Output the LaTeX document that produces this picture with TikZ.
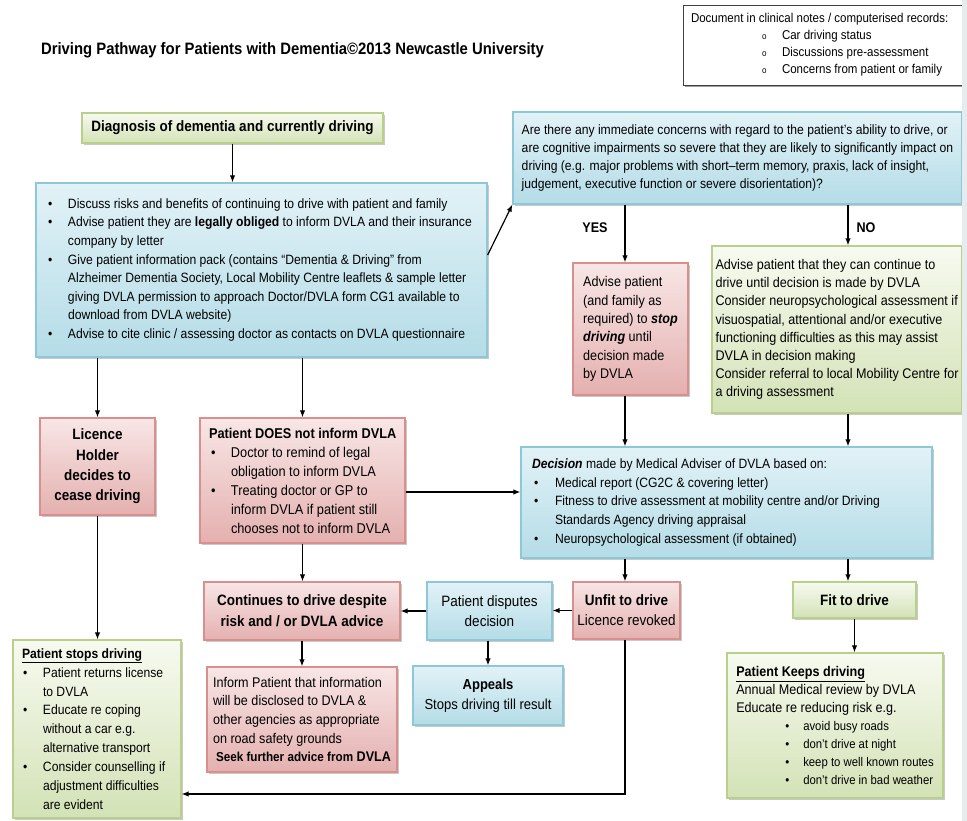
\documentclass[tikz,border=0pt]{standalone}
\usepackage{fontspec}
\setmainfont{Liberation Sans}[FakeStretch=0.9]
\usetikzlibrary{arrows.meta,shadows}
\definecolor{bluetop}{HTML}{E2F2F7}
\definecolor{bluebot}{HTML}{B4DCE7}
\definecolor{blueline}{HTML}{8CC8D8}
\definecolor{redtop}{HTML}{F8E6E6}
\definecolor{redbot}{HTML}{E4B0AF}
\definecolor{redline}{HTML}{D98F8D}
\definecolor{greentop}{HTML}{F7FAF0}
\definecolor{greenbot}{HTML}{D3E2B6}
\definecolor{greenline}{HTML}{B9D08A}
\definecolor{stripe}{HTML}{E6EBED}
\newcommand{\fs}[2]{\fontsize{#1}{#2}\selectfont}
\newcommand{\fw}[2]{\makebox[#1][l]{#2}}
\newcommand{\mybul}{\makebox[20pt][l]{\textbullet}}
\newcommand{\myind}{\hspace*{20pt}}
\newcommand{\mybulx}[2]{\hspace*{#1}\makebox[#2][l]{\textbullet}}
\newcommand{\myindx}[1]{\hspace*{#1}}
\newcommand{\myo}{\hspace*{71pt}\makebox[20pt][l]{\fs{9}{9}o}}
\begin{document}
\begin{tikzpicture}[x=1pt,y=-1pt,
  box/.style={rectangle, line width=1.3pt, inner sep=0pt, align=left,
    drop shadow={shadow xshift=2pt, shadow yshift=-2pt, fill=black!35, opacity=0.6}},
  bbox/.style={box, draw=blueline, top color=bluetop, bottom color=bluebot},
  rbox/.style={box, draw=redline, top color=redtop, bottom color=redbot},
  gbox/.style={box, draw=greenline, top color=greentop, bottom color=greenbot},
  docbox/.style={rectangle, draw=black!75, line width=0.9pt, fill=white, inner sep=0pt, align=left,
    drop shadow={shadow xshift=2pt, shadow yshift=-2pt, fill=black!55, opacity=0.7}},
  arr/.style={-{Latex[length=7pt,width=5.5pt]}, line width=1.2pt},
  lin/.style={line width=1.2pt},
  lbl/.style={inner sep=0pt, font=\bfseries\fs{14}{16}}]
\useasboundingbox (0,0) rectangle (967,821);
\fill[white] (0,0) rectangle (967,821);

\coordinate (yesx) at (625,0);
\coordinate (nox) at (848,0);
\coordinate (r492) at (0,492);
\coordinate (r794) at (0,794);

% title and documentation box
\node[inner sep=0pt, font=\bfseries\fs{16.5}{19}] (title) at (292.5,50) {Driving Pathway for Patients with Dementia©2013 Newcastle University};
\node[docbox, minimum width=279pt, minimum height=80pt, font=\fs{12.8}{17}] (doc) at (822.5,45) {\fw{263pt}{Document in clinical notes / computerised records:}\\
\myo Car driving status\\
\myo Discussions pre-assessment\\
\myo Concerns from patient or family};

% boxes
\node[gbox, minimum width=301pt, minimum height=30pt, font=\bfseries\fs{15}{18}, align=center] (diag) at (232.5,128) {Diagnosis of dementia and currently driving};

\node[bbox, minimum width=451pt, minimum height=174pt, font=\fs{13.5}{18.6}] (info) at (261.5,270) {\fw{427pt}{\mybul Discuss risks and benefits of continuing to drive with patient and family}\\
\mybul Advise patient they are \textbf{legally obliged} to inform DVLA and their insurance\\
\myind company by letter\\
\mybul Give patient information pack (contains “Dementia \& Driving” from\\
\myind Alzheimer Dementia Society, Local Mobility Centre leaflets \& sample letter\\
\myind giving DVLA permission to approach Doctor/DVLA form CG1 available to\\
\myind download from DVLA website)\\
\mybul Advise to cite clinic / assessing doctor as contacts on DVLA questionnaire};

\node[bbox, minimum width=449pt, minimum height=92pt, font=\fs{13.5}{18.2}] (question) at (737.5,158) {\fw{429pt}{Are there any immediate concerns with regard to the patient’s ability to drive, or}\\
are cognitive impairments so severe that they are likely to significantly impact on\\
driving (e.g. major problems with short–term memory, praxis, lack of insight,\\
judgement, executive function or severe disorientation)?};

\node[lbl] (yes) at (595,228) {YES};
\node[lbl] (no) at (866,228) {NO};

\node[rbox, minimum width=115pt, minimum height=132pt, font=\fs{14}{18.3}] (advise) at (630.5,329) {\fw{93pt}{Advise patient}\\
(and family as\\
required) to \textbf{\textit{stop}}\\
\textbf{\textit{driving}} until\\
decision made\\
by DVLA};

\node[gbox, minimum width=250pt, minimum height=167pt, font=\fs{14}{18.2}] (greenR) at (837,329.5) {\fw{228pt}{Advise patient that they can continue to}\\
drive until decision is made by DVLA\\
Consider neuropsychological assessment if\\
visuospatial, attentional and/or executive\\
functioning difficulties as this may assist\\
DVLA in decision making\\
Consider referral to local Mobility Centre for\\
a driving assessment};

\node[bbox, minimum width=411pt, minimum height=111pt, font=\fs{13.5}{18.7}] (decision) at (726.5,502.5) {\fw{389pt}{\textbf{\textit{Decision}} made by Medical Adviser of DVLA based on:}\\
\mybulx{2pt}{21pt}Medical report (CG2C \& covering letter)\\
\mybulx{2pt}{21pt}Fitness to drive assessment at mobility centre and/or Driving\\
\myindx{23pt}Standards Agency driving appraisal\\
\mybulx{2pt}{21pt}Neuropsychological assessment (if obtained)};

\node[rbox, minimum width=115pt, minimum height=97pt, font=\bfseries\fs{15}{20.3}, align=center] (licence) at (97.5,466.5) {Licence\\ Holder\\ decides to\\ cease driving};

\node[rbox, minimum width=205pt, minimum height=125pt, font=\fs{14.2}{19}] (does) at (302.5,480.5) {\fw{187pt}{\textbf{Patient DOES not inform DVLA}}\\
\mybulx{2pt}{20pt}Doctor to remind of legal\\
\myindx{22pt}obligation to inform DVLA\\
\mybulx{2pt}{20pt}Treating doctor or GP to\\
\myindx{22pt}inform DVLA if patient still\\
\myindx{22pt}chooses not to inform DVLA};

\node[rbox, minimum width=196pt, minimum height=58pt, font=\bfseries\fs{15}{21}, align=center] (continues) at (302,611) {Continues to drive despite\\ risk and / or DVLA advice};

\node[bbox, minimum width=125pt, minimum height=58pt, font=\fs{15}{20}, align=center] (disputes) at (489.5,611) {Patient disputes\\ decision};

\node[rbox, minimum width=107pt, minimum height=57pt, font=\fs{15}{20}, align=center] (unfit) at (626.5,610.5) {\textbf{Unfit to drive}\\ Licence revoked};

\node[gbox, minimum width=123pt, minimum height=36pt, font=\bfseries\fs{15}{18}, align=center] (fit) at (854.5,600) {Fit to drive};

\node[bbox, minimum width=150pt, minimum height=59pt, font=\fs{14.5}{20}, align=center] (appeals) at (488,695.5) {\textbf{Appeals}\\ Stops driving till result};

\node[rbox, minimum width=190pt, minimum height=105pt, font=\fs{14}{18.6}] (inform) at (302,719.5) {\fw{170pt}{Inform Patient that information}\\
will be disclosed to DVLA \&\\
other agencies as appropriate\\
on road safety grounds\\
\hspace*{3pt}\textbf{{\fs{13}{18}Seek further advice from} DVLA}};

\node[gbox, minimum width=168pt, minimum height=178pt, font=\fs{13.5}{18.9}] (stops) at (97,729) {\fw{150pt}{\textbf{\underline{Patient stops driving}}}\\
\mybulx{1pt}{20pt}Patient returns license\\
\myindx{21pt}to DVLA\\
\mybulx{1pt}{20pt}Educate re coping\\
\myindx{21pt}without a car e.g.\\
\myindx{21pt}alternative transport\\
\mybulx{1pt}{20pt}Consider counselling if\\
\myindx{21pt}adjustment difficulties\\
\myindx{21pt}are evident};

\node[gbox, minimum width=216pt, minimum height=145pt, font=\fs{14}{18}] (keeps) at (835,725.5) {\fw{196pt}{\textbf{\underline{Patient Keeps driving}}}\\
Annual Medical review by DVLA\\
Educate re reducing risk e.g.\\
\fs{12.6}{18}\mybulx{49pt}{18pt}avoid busy roads\\
\fs{12.6}{18}\mybulx{49pt}{18pt}don’t drive at night\\
\fs{12.6}{18}\mybulx{49pt}{18pt}keep to well known routes\\
\fs{12.6}{18}\mybulx{49pt}{18pt}don’t drive in bad weather};

% connectors
\draw[arr] (diag.south) -- (info.north -| diag.south);
\draw[arr] (info.south -| licence.north) -- (licence.north);
\draw[arr] (info.south -| does.north) -- (does.north);
\draw[arr] ([yshift=15pt]info.east) -- (question.south west);
\draw[arr] (question.south -| yesx) -- (advise.north -| yesx);
\draw[arr] (question.south -| nox) -- (greenR.north -| nox);
\draw[arr] (advise.south -| yesx) -- (decision.north -| yesx);
\draw[arr] (greenR.south -| nox) -- (decision.north -| nox);
\draw[arr] (does.east |- r492) -- (decision.west |- r492);
\draw[arr] (does.south) -- (continues.north -| does.south);
\draw[arr] (decision.south -| yesx) -- (unfit.north -| yesx);
\draw[arr] (decision.south -| nox) -- (fit.north -| nox);
\draw[arr] (unfit.west) -- (disputes.east |- unfit.west);
\draw[arr] (disputes.west) -- (continues.east |- disputes.west);
\draw[arr] (disputes.south -| appeals.north) -- (appeals.north);
\draw[arr] (continues.south) -- (inform.north -| continues.south);
\draw[arr] (licence.south) -- (stops.north -| licence.south);
\draw[arr] (unfit.south -| yesx) |- (stops.east |- r794);
\draw[arr] (fit.south) -- (keeps.north -| fit.south);

\fill[stripe] (962,0) rectangle (967,821);
\end{tikzpicture}
\end{document}
